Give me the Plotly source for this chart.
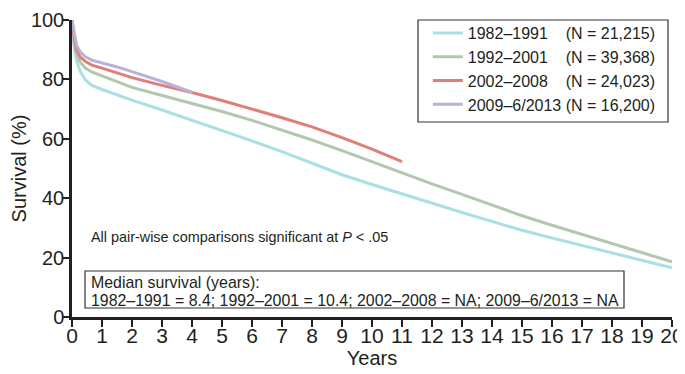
import plotly.graph_objects as go

early_t = [0, 0.03, 0.08, 0.15, 0.27, 0.45, 0.66, 1.0]
late_t = [1.5, 2, 3, 4, 5, 6, 7, 8, 9, 10, 11, 12, 13, 14, 15, 16, 17, 18, 19, 20]

years_a = early_t + late_t
surv_a = [100, 95, 90, 86.3, 82.8, 79.8, 78.0, 76.6,
          74.8, 73, 69.7, 66.3, 62.8, 59.3, 55.7, 51.7, 47.9, 44.6, 41.4, 38.3,
          35.2, 32.2, 29.2, 26.6, 24.1, 21.6, 19.1, 16.6]

years_b = early_t + late_t
surv_b = [100, 96, 92, 88.5, 85.9, 83.8, 82.5, 81.2,
          79.3, 77.3, 74.6, 72, 69.2, 66.2, 63, 59.6, 56, 52.2, 48.4, 44.8,
          41.3, 37.7, 34.1, 30.9, 27.8, 24.8, 21.7, 18.6]

years_c = early_t + [1.5, 2, 3, 4, 5, 6, 7, 8, 9, 10, 11]
surv_c = [100, 97, 93.5, 90, 87.6, 86, 84.8, 83.8,
          82.3, 80.6, 78, 75.6, 72.9, 70.1, 67.1, 64.0, 60.4, 56.5, 52.3]

years_d = early_t + [1.5, 2, 3, 4.02]
surv_d = [100, 98, 95, 91.5, 89.3, 87.6, 86.5, 85.6,
          84.2, 82.6, 79.3, 75.6]

names = ["1982\u20131991", "1992\u20132001", "2002\u20132008", "2009\u20136/2013"]
counts = ["21,215", "39,368", "24,023", "16,200"]
pads = ["\u00a0\u00a0\u00a0\u00a0", "\u00a0\u00a0\u00a0\u00a0", "\u00a0\u00a0\u00a0\u00a0", "\u00a0"]
colors = ["#aadfe3", "#b2c8ae", "#df7f78", "#b9b1d8"]

x_ticks = list(range(0, 21))
y_ticks = [0, 20, 40, 60, 80, 100]

FONT = "Liberation Sans, Arial, Helvetica, sans-serif"
INK = "#231f20"

fig = go.Figure()
series = [(years_a, surv_a), (years_b, surv_b), (years_c, surv_c), (years_d, surv_d)]
for (xs, ys), nm, n, pd_, col in zip(series, names, counts, pads, colors):
    fig.add_trace(go.Scatter(
        x=xs, y=ys, mode="lines",
        name=f"{nm}{pd_}(N = {n})",
        line=dict(color=col, width=3),
        cliponaxis=False,
    ))

# page body adds an 8px offset, so the figure is 8px smaller and margins shifted
fig.update_layout(
    width=677, height=366,
    margin=dict(l=64, r=13, t=12, b=57, autoexpand=False),
    paper_bgcolor="white", plot_bgcolor="white",
    font=dict(family=FONT, color=INK),
    showlegend=True,
    legend=dict(
        x=0.593, y=1.0135, xanchor="left", yanchor="top",
        bgcolor="rgba(0,0,0,0)", borderwidth=0,
        font=dict(size=16, family=FONT, color=INK),
        tracegroupgap=0,
    ),
    xaxis=dict(
        range=[0, 20], tickvals=x_ticks, ticktext=[str(v) for v in x_ticks],
        showgrid=False, zeroline=False, automargin=False,
        showline=True, linecolor=INK, linewidth=2.5,
        ticks="outside", ticklen=7, tickwidth=1.5, tickcolor=INK,
        ticklabelstandoff=-9, ticklabeloverflow="allow",
        tickfont=dict(size=21, family=FONT, color=INK),
        title=dict(text="Years", font=dict(size=20, family=FONT, color=INK), standoff=6),
    ),
    yaxis=dict(
        range=[0, 100], tickvals=y_ticks, ticktext=[str(v) for v in y_ticks],
        showgrid=False, zeroline=False, automargin=False,
        showline=True, linecolor=INK, linewidth=2.5,
        ticks="outside", ticklen=7, tickwidth=1.5, tickcolor=INK,
        ticklabelstandoff=-6,
        tickfont=dict(size=20, family=FONT, color=INK),
        title=dict(text="Survival (%)", font=dict(size=20, family=FONT, color=INK), standoff=6),
    ),
)

# legend frame
fig.add_shape(type="rect", xref="paper", yref="paper",
              x0=0.5767, x1=0.9933, y0=0.6566, y1=1.0,
              line=dict(color="#333333", width=1.2), fillcolor="rgba(0,0,0,0)")

# median box frame
fig.add_shape(type="rect", xref="paper", yref="paper",
              x0=0.0217, x1=0.92, y0=0.0303, y1=0.1549,
              line=dict(color="#333333", width=1.2), fillcolor="rgba(0,0,0,0)")

fig.add_annotation(
    xref="paper", yref="paper", x=0.028, y=(317 - 282) / 297, xanchor="left", yanchor="middle",
    text="Median survival (years):",
    showarrow=False, font=dict(size=15.9, family=FONT, color=INK),
)
fig.add_annotation(
    xref="paper", yref="paper", x=0.028, y=(317 - 300) / 297, xanchor="left", yanchor="middle",
    text="1982\u20131991 = 8.4; 1992\u20132001 = 10.4; 2002\u20132008 = NA; 2009\u20136/2013 = NA",
    showarrow=False, font=dict(size=15.9, family=FONT, color=INK),
)

fig.add_annotation(
    xref="paper", yref="paper", x=0.028, y=(317 - 237) / 297, xanchor="left", yanchor="middle",
    text="All pair-wise comparisons significant at <i>P</i> < .05",
    showarrow=False, font=dict(size=14.4, family=FONT, color=INK),
)

fig.write_html("out.html")
